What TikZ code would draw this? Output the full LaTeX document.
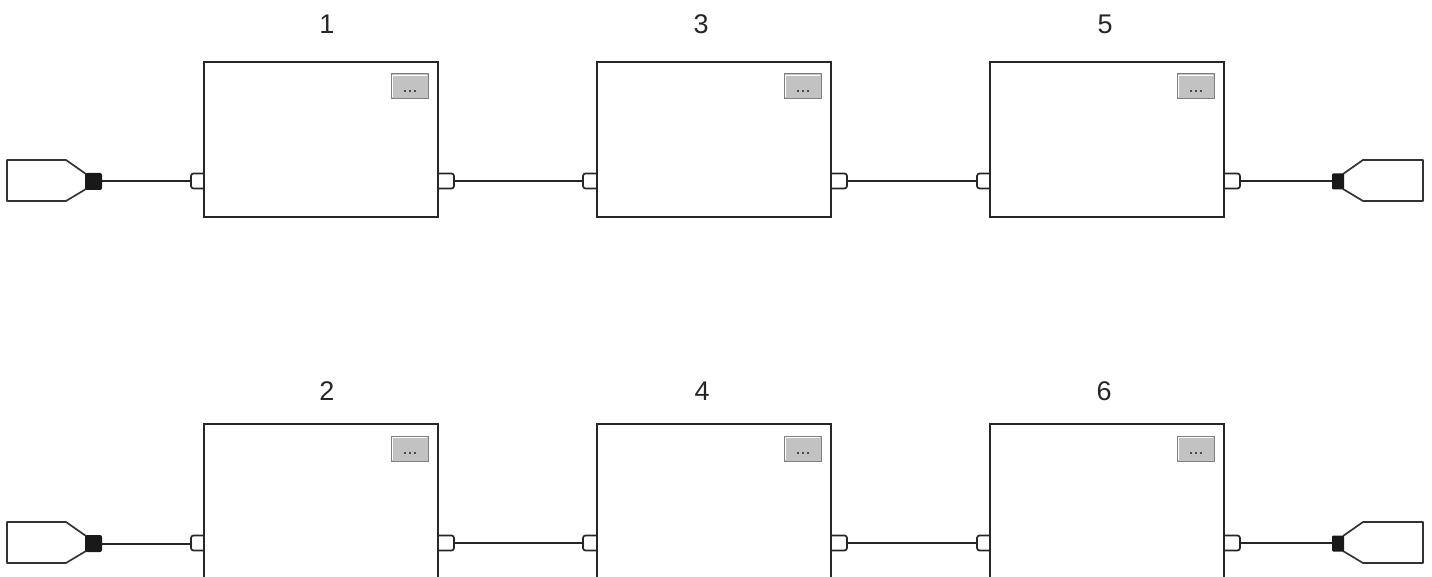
\documentclass[tikz,border=0pt]{standalone}
\usepackage{fontspec}
\setmainfont{Liberation Sans}
\usetikzlibrary{calc}
\begin{document}
\begin{tikzpicture}[x=1pt,y=-1pt,
  ln/.style={line width=1.7pt, draw=black!85},
  blk/.style={ln, fill=white, rectangle, minimum width=234pt, minimum height=155pt, inner sep=0pt, outer sep=0pt, anchor=north west},
  portr/.style={ln, fill=white, rectangle, rounded corners=2.5pt, minimum width=20pt, minimum height=15pt, inner sep=0pt, outer sep=0pt},
  portl/.style={ln, fill=white, rectangle, rounded corners=2.5pt, minimum width=17pt, minimum height=15pt, inner sep=0pt, outer sep=0pt},
  btn/.style={rectangle, fill=black!24, draw=black!50, line width=1pt, minimum width=37pt, minimum height=25pt, inner sep=0pt, anchor=north east},
  lbl/.style={font=\fontsize{27}{30}\selectfont, text=black!85, inner sep=0pt},
  jackl/.style={rectangle, fill=black!90, rounded corners=2pt, minimum width=17pt, minimum height=17pt, inner sep=0pt, outer sep=0pt},
  jackr/.style={rectangle, fill=black!90, rounded corners=1pt, minimum width=12pt, minimum height=16pt, inner sep=0pt, outer sep=0pt},
  wire/.style={line width=2pt, draw=black!85},
  term/.style={line width=1.7pt, draw=black!80, fill=white, line join=round}]
\useasboundingbox (0,0) rectangle (1432,577);
\clip (0,0) rectangle (1432,577);
\fill[white] (0,0) rectangle (1432,577);
\foreach \y/\i/\j/\k in {0/1/3/5, 362/2/4/6} {
\begin{scope}[shift={(0,\y)}]
  % ports (drawn first, box covers inner part)
  \node[portl] (l\i) at (199.5,181) {};
  \node[portr] (r\i) at (444,181) {};
  \node[portl] (l\j) at (591.5,181) {};
  \node[portr] (r\j) at (837,181) {};
  \node[portl] (l\k) at (985.5,181) {};
  \node[portr] (r\k) at (1230,181) {};
  % blocks
  \node[blk] (b\i) at (204,62) {};
  \node[blk] (b\j) at (597,62) {};
  \node[blk] (b\k) at (990,62) {};
  % buttons
  \foreach \n in {\i,\j,\k} {
    \node[btn] (k\n) at ($(b\n.north east)+(-9.5,11.5)$) {};
    \draw[white, line width=0.8pt] ($(k\n.south west)+(1.5,-2)$) -- ($(k\n.north west)+(1.5,1.5)$) -- ($(k\n.north east)+(-2,1.5)$);
    \foreach \dx in {-5,0,5}
      \fill[black!70] ($(k\n.center)+(\dx-1,3.5)$) rectangle +(2,2);
  }
  % terminals
  \draw[term] (86,174) -- (71,163.5) -- (66,160) -- (7,160) -- (7,201) -- (66,201) -- (71,198) -- (86,189);
  \node[jackl] (tl\i) at (93.5,181.5) {};
  \draw[term] (1343,174) -- (1358,163.5) -- (1363,160) -- (1423,160) -- (1423,201) -- (1363,201) -- (1358,198) -- (1343,189);
  \node[jackr] (tr\i) at (1338,181.5) {};
  % wires
  \draw[wire] (tl\i.east) -- (tl\i.east -| l\i.west);
  \draw[wire] (r\i.east) -- (l\j.west);
  \draw[wire] (r\j.east) -- (l\k.west);
  \draw[wire] (r\k.east) -- (r\k.east -| tr\i.west);
\end{scope}
}
% labels
\node[lbl] (n1) at (327,24) {1};
\node[lbl] (n3) at (701,24) {3};
\node[lbl] (n5) at (1105,24) {5};
\node[lbl] (n2) at (327,391) {2};
\node[lbl] (n4) at (702,391) {4};
\node[lbl] (n6) at (1104,391) {6};
\end{tikzpicture}
\end{document}
